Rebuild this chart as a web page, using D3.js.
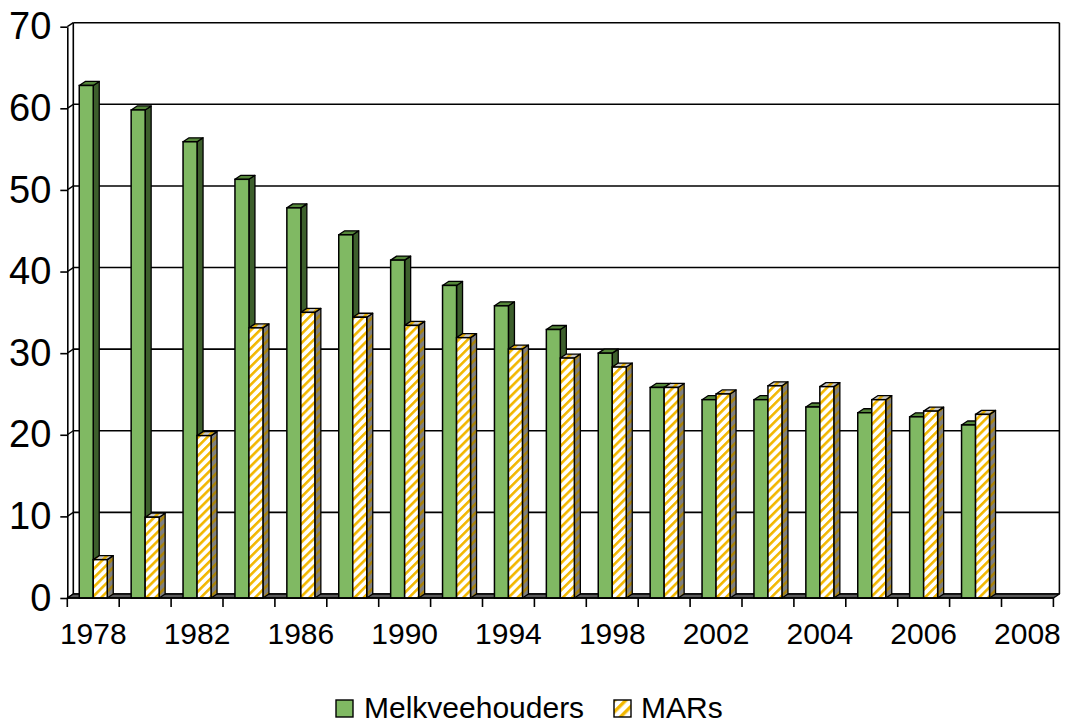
<!DOCTYPE html>
<html>
<head>
<meta charset="utf-8">
<script src="https://cdn.jsdelivr.net/npm/d3@7"></script>
<style>
  html, body { margin: 0; padding: 0; background: #fff; }
  svg { display: block; font-family: "Liberation Sans", Arial, sans-serif; }
</style>
</head>
<body>
<svg id="chart" width="1066" height="725"></svg>
<script>
const categories = ["1978","1980","1982","1984","1986","1988","1990","1992","1994","1996","1998","2000","2002","2003","2004","2005","2006","2007","2008"];
const tickLabels = ["1978","1982","1986","1990","1994","1998","2002","2004","2006","2008"];
const melkveehouders = [62.8, 59.8, 55.9, 51.3, 47.8, 44.5, 41.4, 38.3, 35.8, 32.9, 30.0, 25.8, 24.3, 24.3, 23.4, 22.7, 22.2, 21.2, null];
const mars = [4.7, 9.9, 19.9, 33.1, 35.0, 34.4, 33.4, 31.9, 30.5, 29.4, 28.3, 25.8, 25.0, 26.0, 25.9, 24.3, 22.9, 22.5, null];
const seriesNames = ["Melkveehouders", "MARs"];
const yTicks = [0, 10, 20, 30, 40, 50, 60, 70];

const svg = d3.select("#chart");
const DX = 6, DY = 4;

const x = d3.scaleBand().domain(categories).range([67.3, 1053.4]).padding(0);
const y = d3.scaleLinear().domain([0, 70]).range([598, 26.7]);
const bw = x.bandwidth();
const s = d3.scaleBand().domain(seriesNames).range([bw / 2 - 14, bw / 2 + 14]).padding(0);

// patterns
const defs = svg.append("defs");
function stripes(id, bg, fg, size, thick) {
  const p = defs.append("pattern").attr("id", id).attr("patternUnits", "userSpaceOnUse")
    .attr("width", size).attr("height", size).attr("patternTransform", "rotate(45)");
  p.append("rect").attr("width", size).attr("height", size).attr("fill", bg);
  p.append("rect").attr("width", thick).attr("height", size).attr("fill", fg);
}
stripes("marsFront", "#ffffff", "#f2b700", 6.4, 2.6);
stripes("marsSide", "#7f7f7f", "#a8820a", 6.4, 2.6);
stripes("marsTop", "#c8c8c8", "#e0aa00", 6.4, 2.6);
stripes("marsLegend", "#ffffff", "#f2b700", 8, 3.4);

const x0 = x.range()[0], x1 = x.range()[1];
const yb = v => y(v) - DY; // back-wall y

// back wall gridlines
svg.append("g").selectAll("line").data(yTicks).join("line")
  .attr("x1", x0 + DX).attr("x2", x1 + DX)
  .attr("y1", d => yb(d)).attr("y2", d => yb(d))
  .attr("stroke", "#000").attr("stroke-width", 1.6);
// back wall left & right edges
svg.append("line").attr("x1", x0 + DX).attr("x2", x0 + DX).attr("y1", yb(70)).attr("y2", yb(0))
  .attr("stroke", "#000").attr("stroke-width", 1.6);
svg.append("line").attr("x1", x1 + DX).attr("x2", x1 + DX).attr("y1", yb(70)).attr("y2", yb(0))
  .attr("stroke", "#000").attr("stroke-width", 1.6);
// side wall diagonals
svg.append("g").selectAll("line").data(yTicks).join("line")
  .attr("x1", x0).attr("x2", x0 + DX)
  .attr("y1", d => y(d)).attr("y2", d => yb(d))
  .attr("stroke", "#000").attr("stroke-width", 1.4);

// floor
svg.append("polygon")
  .attr("points", [[x0, y(0)], [x1, y(0)], [x1 + DX, yb(0)], [x0 + DX, yb(0)]].map(p => p.join(",")).join(" "))
  .attr("fill", "#5a5a5a").attr("stroke", "#000").attr("stroke-width", 1.4).attr("stroke-linejoin", "round");

// y axis
const yAxis = d3.axisLeft(y).tickValues(yTicks).tickSize(7).tickSizeOuter(0).tickPadding(9);
const gy = svg.append("g").attr("transform", `translate(${x0},0)`).call(yAxis);
gy.select(".domain").attr("stroke", "#000").attr("stroke-width", 1.6);
gy.selectAll(".tick line").attr("stroke", "#000").attr("stroke-width", 1.6);
gy.selectAll(".tick text").attr("font-size", 38).attr("fill", "#000")
  .attr("font-family", "'Liberation Sans', Arial, sans-serif");

// bars
const data = categories.map((c, i) => ({ c, vals: [melkveehouders[i], mars[i]] }));
const styles = [
  { front: "#80b963", side: "#3d5f2c", top: "#55873a" },
  { front: "url(#marsFront)", side: "url(#marsSide)", top: "url(#marsTop)" }
];
const gBars = svg.append("g");
data.forEach(d => {
  d.vals.forEach((v, k) => {
    if (v == null) return;
    const bx = x(d.c) + s(seriesNames[k]);
    const w = s.bandwidth();
    const yt = y(v), y0 = y(0);
    const st = styles[k];
    const g = gBars.append("g");
    g.append("polygon")
      .attr("points", [[bx + w, yt], [bx + w + DX, yt - DY], [bx + w + DX, y0 - DY], [bx + w, y0]].map(p => p.join(",")).join(" "))
      .attr("fill", st.side).attr("stroke", "#000").attr("stroke-width", 1.3).attr("stroke-linejoin", "round");
    g.append("polygon")
      .attr("points", [[bx, yt], [bx + DX, yt - DY], [bx + w + DX, yt - DY], [bx + w, yt]].map(p => p.join(",")).join(" "))
      .attr("fill", st.top).attr("stroke", "#000").attr("stroke-width", 1.3).attr("stroke-linejoin", "round");
    g.append("rect").attr("x", bx).attr("y", yt).attr("width", w).attr("height", y0 - yt)
      .attr("fill", st.front).attr("stroke", "#000").attr("stroke-width", 1.5);
  });
});

// x axis ticks at category boundaries
const bounds = categories.map(c => x(c)).concat([x1]);
svg.append("g").selectAll("line").data(bounds).join("line")
  .attr("x1", d => d).attr("x2", d => d).attr("y1", y(0)).attr("y2", y(0) + 9)
  .attr("stroke", "#000").attr("stroke-width", 1.6);
svg.append("line").attr("x1", x0).attr("x2", x1).attr("y1", y(0)).attr("y2", y(0))
  .attr("stroke", "#000").attr("stroke-width", 1.6);

// x labels
svg.append("g").selectAll("text").data(tickLabels).join("text")
  .attr("x", d => x(d) + bw / 2).attr("y", 644)
  .attr("text-anchor", "middle").attr("font-size", 30).attr("fill", "#000")
  .text(d => d);

// legend
const legend = [
  { name: seriesNames[0], fill: "#80b963", sx: 336, tx: 364 },
  { name: seriesNames[1], fill: "url(#marsLegend)", sx: 614, tx: 641 }
];
const gl = svg.append("g");
legend.forEach(l => {
  gl.append("rect").attr("x", l.sx).attr("y", 700).attr("width", 17).attr("height", 17)
    .attr("fill", l.fill).attr("stroke", "#000").attr("stroke-width", 1.4);
  gl.append("text").attr("x", l.tx).attr("y", 718).attr("font-size", 30).attr("fill", "#000").text(l.name);
});
</script>
</body>
</html>
